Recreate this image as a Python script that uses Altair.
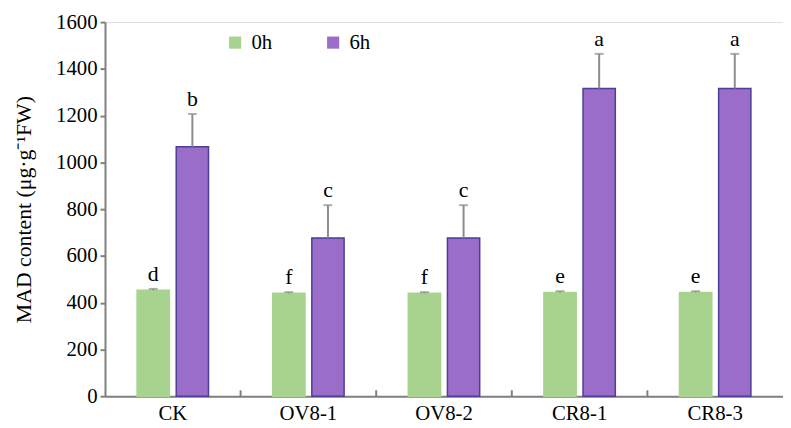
import altair as alt
import pandas as pd

categories = ["CK", "OV8-1", "OV8-2", "CR8-1", "CR8-3"]
times = ["0h", "6h"]
values_0h = [453, 440, 440, 444, 444]
values_6h = [1067, 677, 677, 1316, 1316]
err_0h = [6, 5, 5, 5, 5]
err_6h = [140, 140, 140, 148, 148]
letters_0h = ["d", "f", "f", "e", "e"]
letters_6h = ["b", "c", "c", "a", "a"]

rows = []
for i, c in enumerate(categories):
    rows.append({"cat": c, "time": "0h", "value": values_0h[i], "err": err_0h[i], "letter": letters_0h[i]})
    rows.append({"cat": c, "time": "6h", "value": values_6h[i], "err": err_6h[i], "letter": letters_6h[i]})
df = pd.DataFrame(rows)
df["top"] = df["value"] + df["err"]

sep = pd.DataFrame({"cat": categories[1:]})

FONT = "Liberation Serif, Times New Roman, serif"
x_enc = alt.X("cat:N", sort=categories, title=None,
              scale=alt.Scale(paddingInner=0, paddingOuter=0),
              axis=alt.Axis(labelFont=FONT, labelFontSize=21, labelColor="black",
                            labelAngle=0, ticks=False, domainColor="#7f7f7f",
                            domainWidth=2, labelPadding=7))
xoff = alt.XOffset("time:N", sort=times,
                   scale=alt.Scale(paddingInner=0.175, paddingOuter=0.82))
y_scale = alt.Scale(domain=[0, 1600], nice=False, zero=True)

base = alt.Chart(df)

bars = base.mark_bar(strokeWidth=1.5).encode(
    x=x_enc,
    xOffset=xoff,
    y=alt.Y("value:Q", scale=y_scale,
            title="MAD content (μg·g⁻¹FW)",
            axis=alt.Axis(values=[0, 200, 400, 600, 800, 1000, 1200, 1400, 1600],
                          format="d",
                          labelFont=FONT, labelFontSize=21, labelColor="black",
                          titleFont=FONT, titleFontSize=22, titleFontWeight="normal",
                          titleColor="black", titlePadding=20,
                          grid=False, domainColor="#7f7f7f", domainWidth=2,
                          tickColor="#7f7f7f", tickWidth=2, tickSize=5, labelPadding=3)),
    color=alt.Color("time:N", sort=times,
                    scale=alt.Scale(domain=times, range=["#a8d38e", "#9a6dc8"]),
                    legend=alt.Legend(title=None, orient="none", legendX=121, legendY=10,
                                      direction="horizontal", symbolType="square",
                                      symbolSize=150, symbolStrokeWidth=0,
                                      labelFont=FONT, labelFontSize=21, labelColor="black",
                                      columnPadding=51, labelOffset=6)),
    stroke=alt.Stroke("time:N", sort=times,
                      scale=alt.Scale(domain=times, range=["#a8d38e", "#4b3f98"]),
                      legend=None),
)

errs = base.mark_rule(color="#8c8c8c", strokeWidth=2).encode(
    x=alt.X("cat:N", sort=categories),
    xOffset=xoff,
    y=alt.Y("value:Q", scale=y_scale),
    y2="top:Q",
)

caps = base.mark_tick(color="#8c8c8c", thickness=2, size=9).encode(
    x=alt.X("cat:N", sort=categories),
    xOffset=xoff,
    y=alt.Y("top:Q", scale=y_scale),
)

labels = base.mark_text(font=FONT, fontSize=22, color="black", dy=-3, baseline="bottom").encode(
    x=alt.X("cat:N", sort=categories),
    xOffset=xoff,
    y=alt.Y("top:Q", scale=y_scale),
    text="letter:N",
)

seps = alt.Chart(sep).mark_rule(color="#7f7f7f", strokeWidth=2).encode(
    x=alt.X("cat:N", sort=categories, bandPosition=0),
    y=alt.value(372),
    y2=alt.value(378),
)

chart = alt.layer(bars, errs, caps, labels, seps).properties(
    width=685, height=378,
    autosize=alt.AutoSizeParams(type="none"),
    padding={"left": 98, "top": 12, "right": 0, "bottom": 40},
).configure_view(stroke=None).configure(font=FONT)

chart.save("out.html", embed_options={"renderer": "svg", "actions": False})
